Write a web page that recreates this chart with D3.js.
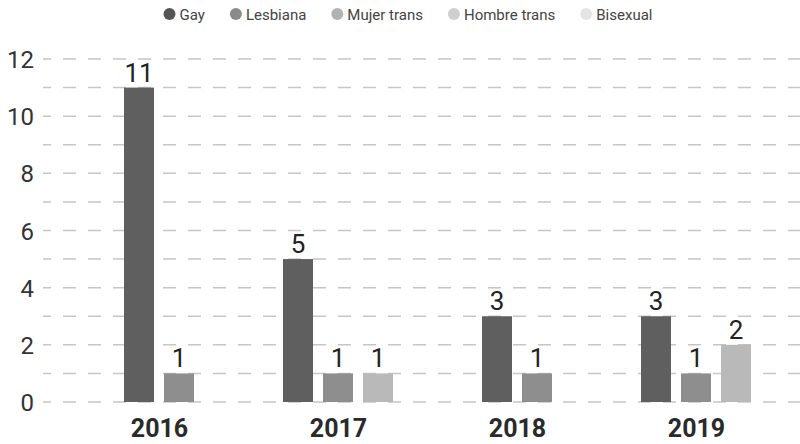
<!DOCTYPE html>
<html>
<head>
<meta charset="utf-8">
<script src="https://cdn.jsdelivr.net/npm/d3@7"></script>
<style>
  html, body { margin: 0; padding: 0; background: #fff; }
  svg { display: block; font-family: Roboto, "Noto Sans", sans-serif; }
</style>
</head>
<body>
<svg id="chart" width="800" height="444"></svg>
<script>
// Categories and series
const years = ["2016", "2017", "2018", "2019"];
const seriesNames = ["Gay", "Lesbiana", "Mujer trans", "Hombre trans", "Bisexual"];
const seriesColors = ["#5f5f5f", "#8e8e8e", "#b9b9b9", "#d2d2d2", "#e6e6e6"];
const legendColors = ["#555555", "#8a8a8a", "#b2b2b2", "#cfcfcf", "#e4e4e4"];

// Counts per year, one array per series
const gay        = [11, 5, 3, 3];
const lesbiana   = [1, 1, 1, 1];
const mujerTrans = [0, 1, 0, 2];
const hombreTrans = [0, 0, 0, 0];
const bisexual   = [0, 0, 0, 0];

const yTicks = [0, 2, 4, 6, 8, 10, 12];

const seriesValues = [gay, lesbiana, mujerTrans, hombreTrans, bisexual];

const svg = d3.select("#chart");

const y = d3.scaleLinear().domain([0, 12]).range([402, 59]);
const x0 = d3.scalePoint().domain(years).range([159, 696]);

// Dashed horizontal grid at every unit
const grid = svg.append("g");
grid.selectAll("line")
  .data(d3.range(0, 13))
  .join("line")
  .attr("x1", 43).attr("x2", 800)
  .attr("y1", d => y(d)).attr("y2", d => y(d))
  .attr("stroke", "#c6c6c6")
  .attr("stroke-width", 1.5)
  .attr("stroke-dasharray", "13 12")
  .attr("stroke-dashoffset", 5);

// Y axis labels
const yAxis = d3.axisLeft(y).tickValues(yTicks).tickSize(0).tickPadding(0);
const yg = svg.append("g").attr("transform", "translate(34,0)").call(yAxis);
yg.select(".domain").remove();
yg.selectAll("text")
  .attr("font-size", 24)
  .attr("font-family", "Roboto, sans-serif")
  .attr("font-weight", 400)
  .attr("fill", "#333")
  .attr("dy", "0.36em");

// Bars: within each year only the series with a value are drawn, centred on the year
years.forEach((yr, i) => {
  const present = seriesNames
    .map((name, s) => ({ name, s, value: seriesValues[s][i] }))
    .filter(d => d.value > 0);
  const n = present.length;
  const x1 = d3.scaleBand()
    .domain(present.map(d => d.name))
    .range([x0(yr) - n * 20, x0(yr) + n * 20])
    .paddingInner(0.25)
    .paddingOuter(0.125);

  const g = svg.append("g");
  g.selectAll("rect")
    .data(present)
    .join("rect")
    .attr("x", d => x1(d.name))
    .attr("width", x1.bandwidth())
    .attr("y", d => y(d.value))
    .attr("height", d => y(0) - y(d.value))
    .attr("fill", d => seriesColors[d.s]);

  g.selectAll("text")
    .data(present)
    .join("text")
    .attr("x", d => x1(d.name) + x1.bandwidth() / 2)
    .attr("y", d => y(d.value) - 6)
    .attr("text-anchor", "middle")
    .attr("font-size", 26)
    .attr("fill", "#222")
    .text(d => d.value);
});

// Year labels
const xAxis = d3.axisBottom(x0).tickSize(0).tickPadding(0);
const xg = svg.append("g").attr("transform", "translate(0,437)").call(xAxis);
xg.select(".domain").remove();
xg.selectAll("text")
  .attr("font-size", 25)
  .attr("font-weight", 700)
  .attr("font-family", "Roboto, sans-serif")
  .attr("fill", "#2a2a2a")
  .attr("dy", 0);

// Legend
const legend = svg.append("g");
let lx = 0;
seriesNames.forEach((name, s) => {
  const item = legend.append("g").attr("transform", `translate(${lx},0)`);
  item.append("circle").attr("cx", 6).attr("cy", 14).attr("r", 6).attr("fill", legendColors[s]);
  const t = item.append("text")
    .attr("x", 16).attr("y", 19.5)
    .attr("font-size", 15)
    .attr("fill", "#444")
    .text(name);
  lx += 16 + t.node().getComputedTextLength() + 25;
});
const legendWidth = lx - 25;
legend.attr("transform", `translate(${408 - legendWidth / 2},0)`);
</script>
</body>
</html>
